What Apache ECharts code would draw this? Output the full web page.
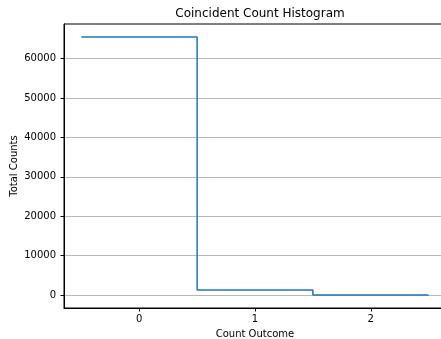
<!DOCTYPE html>
<html>
<head>
<meta charset="utf-8">
<script src="https://cdn.jsdelivr.net/npm/echarts@6/dist/echarts.min.js"></script>
<style>html,body{margin:0;padding:0;background:#fff}#c{width:441px;height:339px}</style>
</head>
<body>
<div id="c"></div>
<script>
var binEdges = [-0.5, 0.5, 1.5, 2.5];
var counts = [65536, 1300, 30];
var xTicks = [0, 1, 2];
var yTicks = [0, 10000, 20000, 30000, 40000, 50000, 60000];

var stepData = [];
for (var i = 0; i < binEdges.length; i++) {
  var v = i < counts.length ? counts[i] : counts[counts.length - 1];
  stepData.push([binEdges[i], v]);
}
var font = 'DejaVu Sans';
var chart = echarts.init(document.getElementById('c'), null, {renderer: 'canvas'});
chart.setOption({
  animation: false,
  title: {
    text: 'Coincident Count Histogram',
    left: 255, top: 3, textAlign: 'center',
    textStyle: {fontFamily: font, fontSize: 12, fontWeight: 'normal', color: '#000'}
  },
  grid: {left: 64, right: -5, top: 24, bottom: 31, show: true, borderColor: '#000', borderWidth: 1,
         containLabel: false, outerBoundsMode: 'none'},
  xAxis: {
    type: 'value', min: -0.65, max: 2.65,
    name: 'Count Outcome', nameLocation: 'middle', nameGap: 21, nameMoveOverlap: false,
    nameTextStyle: {fontFamily: font, fontSize: 10, color: '#000'},
    axisLine: {show: true, onZero: false, lineStyle: {color: '#000', width: 1}},
    axisTick: {show: true, length: 3.5, lineStyle: {color: '#000'}, customValues: xTicks},
    axisLabel: {fontFamily: font, fontSize: 10, color: '#000', margin: 6, customValues: xTicks,
                formatter: function (v) { return String(v); }},
    splitLine: {show: false}
  },
  yAxis: {
    type: 'value', min: -3277, max: 68813,
    name: 'Total Counts', nameLocation: 'middle', nameGap: 45, nameMoveOverlap: false,
    nameTextStyle: {fontFamily: font, fontSize: 10, color: '#000'},
    axisLine: {show: true, onZero: false, lineStyle: {color: '#000', width: 1}},
    axisTick: {show: true, length: 3.5, lineStyle: {color: '#000'}, customValues: yTicks},
    axisLabel: {fontFamily: font, fontSize: 10, color: '#000', margin: 8, customValues: yTicks,
                formatter: function (v) { return String(v); }},
    splitLine: {show: true, lineStyle: {color: '#b8b8b8', width: 1}}
  },
  series: [{
    type: 'line', step: 'end', data: stepData, showSymbol: false, symbol: 'none',
    lineStyle: {color: '#1f77b4', width: 1.5}, clip: false
  }]
});
</script>
</body>
</html>
